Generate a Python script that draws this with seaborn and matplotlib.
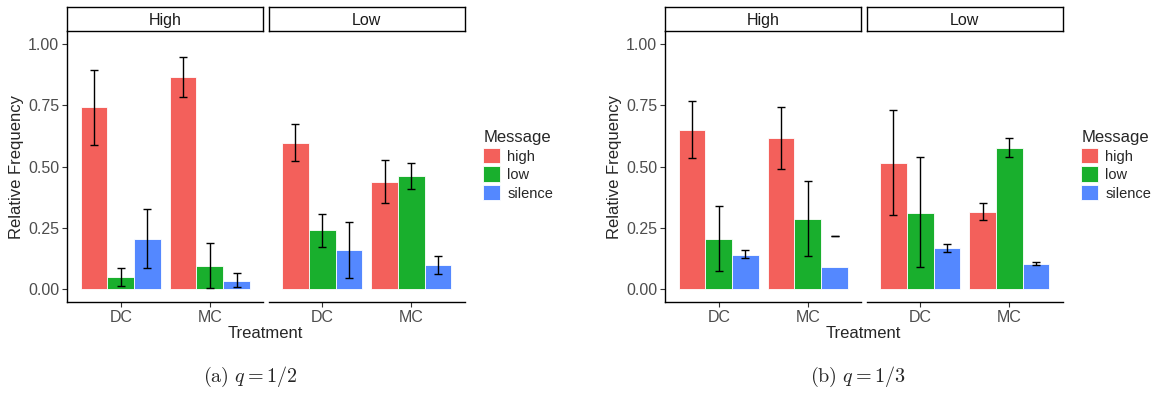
import numpy as np
import pandas as pd
import matplotlib
matplotlib.use("Agg")
import matplotlib.pyplot as plt
from matplotlib.patches import Patch
from matplotlib.ticker import FormatStrFormatter
import seaborn as sns

#%% DATA
facets = ["High", "Low"]
treatments = ["DC", "MC"]
messages = ["high", "low", "silence"]
palette = {"high": "#F3605B", "low": "#19AF2D", "silence": "#5488FF"}

# order: facet -> treatment -> message
a_freq = [0.742, 0.049, 0.206, 0.864, 0.096, 0.035, 0.597, 0.240, 0.160, 0.437, 0.460, 0.098]
a_lo = [0.587, 0.012, 0.088, 0.782, 0.004, 0.010, 0.521, 0.174, 0.047, 0.350, 0.410, 0.061]
a_hi = [0.894, 0.087, 0.328, 0.946, 0.190, 0.065, 0.674, 0.308, 0.274, 0.525, 0.513, 0.137]

b_freq = [0.651, 0.205, 0.140, 0.616, 0.286, 0.092, 0.513, 0.313, 0.168, 0.315, 0.575, 0.103]
b_lo = [0.536, 0.075, 0.126, 0.490, 0.138, 0.218, 0.303, 0.090, 0.152, 0.284, 0.539, 0.098]
b_hi = [0.768, 0.338, 0.159, 0.742, 0.440, 0.218, 0.729, 0.540, 0.185, 0.350, 0.616, 0.110]

captions = [r"$\mathrm{(a)}\ q = 1/2$", r"$\mathrm{(b)}\ q = 1/3$"]

#%% STYLE
sns.set_theme(style="white")
plt.rcParams["font.family"] = ["Liberation Sans", "DejaVu Sans"]
plt.rcParams["mathtext.fontset"] = "cm"

W, H = 1156, 394
fig = plt.figure(figsize=(W / 100, H / 100), dpi=100)


def px_axes(x0, y0, x1, y1):
    return fig.add_axes([x0 / W, 1 - y1 / H, (x1 - x0) / W, (y1 - y0) / H])


def make_df(freq, lo, hi):
    rows = []
    k = 0
    for f in facets:
        for t in treatments:
            for m in messages:
                rows.append((f, t, m, freq[k], lo[k], hi[k]))
                k += 1
    return pd.DataFrame(rows, columns=["Facet", "Treatment", "Message", "freq", "lo", "hi"])


def draw_panel(df, x_left, caption, cap_x):
    top, bottom = 31.5, 301.7
    fw, gap = 196.0, 5.4
    for i, f in enumerate(facets):
        x0 = x_left + i * (fw + gap)
        ax = px_axes(x0, top, x0 + fw, bottom)
        sub = df[df.Facet == f]
        sns.barplot(data=sub, x="Treatment", y="freq", hue="Message",
                    order=treatments, hue_order=messages, palette=palette,
                    saturation=1, width=0.9, errorbar=None, legend=False,
                    edgecolor="white", linewidth=0.6, ax=ax)
        # error bars at the bar centres
        for m, cont in zip(messages, ax.containers):
            for t, bar in zip(treatments, cont):
                row = sub[(sub.Treatment == t) & (sub.Message == m)].iloc[0]
                xc = bar.get_x() + bar.get_width() / 2
                ax.vlines(xc, row.lo, row.hi, color="black", lw=1.0, zorder=5)
                ax.hlines([row.lo, row.hi], xc - 0.045, xc + 0.045,
                          color="black", lw=1.0, zorder=5)
        ax.set_xlim(-0.6, 1.6)
        ax.set_ylim(-0.05, 1.05)
        ax.set_xlabel("")
        ax.set_ylabel("")
        ax.set_yticks([0, 0.25, 0.5, 0.75, 1.0])
        ax.yaxis.set_major_formatter(FormatStrFormatter("%.2f"))
        for s in ["top", "right"]:
            ax.spines[s].set_visible(False)
        ax.spines["bottom"].set_color("black")
        ax.spines["bottom"].set_linewidth(1.0)
        ax.tick_params(axis="both", length=3.8, width=0.8, color="#333333",
                       labelsize=11.5, labelcolor="#4D4D4D", pad=2,
                       bottom=True, left=(i == 0))
        if i == 0:
            ax.spines["left"].set_color("black")
            ax.spines["left"].set_linewidth(1.0)
        else:
            ax.spines["left"].set_visible(False)
            ax.tick_params(labelleft=False)

        # facet strip
        st = px_axes(x0, 6.7, x0 + fw, 31.3)
        st.set_xticks([])
        st.set_yticks([])
        for s in st.spines.values():
            s.set_color("black")
            s.set_linewidth(1.0)
        st.text(0.5, 0.45, f, ha="center", va="center", fontsize=11.5,
                color="#1A1A1A", transform=st.transAxes)

    fig.text((x_left - 50.6) / W, 1 - 166.6 / H, "Relative Frequency",
             rotation=90, ha="center", va="center", fontsize=12)
    fig.text((x_left + 198.5) / W, 1 - 333 / H, "Treatment",
             ha="center", va="center", fontsize=12)
    handles = [Patch(facecolor=palette[m], edgecolor="white", lw=0.6) for m in messages]
    fig.legend(handles=handles, labels=messages, title="Message",
               loc="upper left", bbox_to_anchor=((x_left + 416) / W, 1 - 130 / H),
               frameon=False, fontsize=10.5, title_fontsize=12,
               handlelength=1.15, handleheight=1.25, labelspacing=0.2,
               handletextpad=0.5, borderpad=0, borderaxespad=0,
               alignment="left")
    fig.text(cap_x / W, 1 - 377 / H, caption, ha="center", va="center",
             fontsize=14.5)


draw_panel(make_df(a_freq, a_lo, a_hi), 67.3, captions[0], 250)
draw_panel(make_df(b_freq, b_lo, b_hi), 665.3, captions[1], 858)

fig.savefig("out.png", dpi=100)
